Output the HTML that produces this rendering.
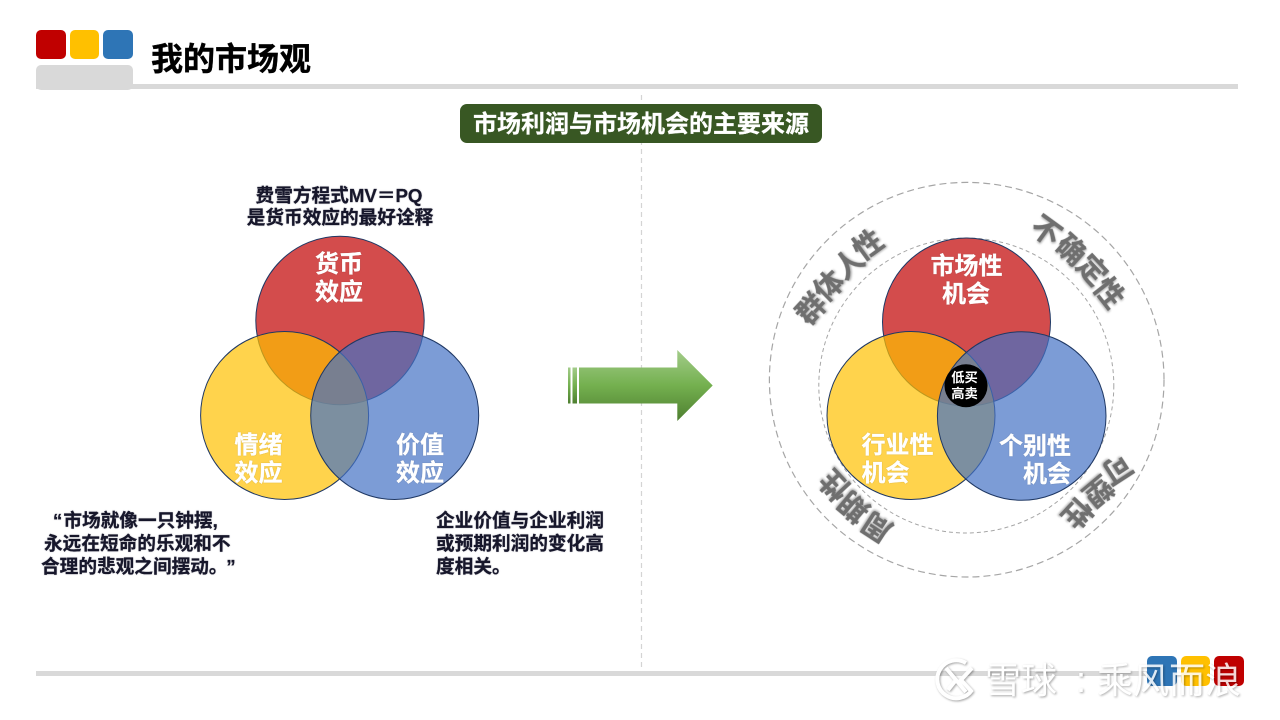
<!DOCTYPE html>
<html><head><meta charset="utf-8">
<style>
html,body{margin:0;padding:0;background:#fff;width:1280px;height:720px;overflow:hidden}
svg{display:block}
text{font-family:"Liberation Sans","Noto Sans CJK SC",sans-serif;font-weight:700}
.d{font-size:18.67px;fill:#17172b;stroke:#17172b;stroke-width:.25px;filter:drop-shadow(.6px .6px .7px rgba(60,60,80,.3))}
.w{font-size:24px;fill:#fff;stroke:#fff;stroke-width:.3px;text-anchor:middle;filter:drop-shadow(.6px .6px .5px rgba(0,0,0,.2))}
.g{font-size:29px;fill:#6f6f6f;stroke:#6f6f6f;stroke-width:.3px;text-anchor:middle;filter:drop-shadow(1px 1px 1px rgba(0,0,0,.35))}
.m{font-size:36px;font-weight:400;fill:#fff;filter:drop-shadow(1px 1.5px 1px rgba(0,0,0,.36))}
</style></head><body>
<svg width="1280" height="720" viewBox="0 0 1280 720" xmlns="http://www.w3.org/2000/svg">
<defs>
<linearGradient id="ag" x1="0" y1="0" x2="0" y2="1">
<stop offset="0" stop-color="#a3cc8a"/><stop offset=".5" stop-color="#74b04f"/><stop offset="1" stop-color="#4e7f30"/>
</linearGradient>
<linearGradient id="ab" gradientUnits="userSpaceOnUse" x1="0" y1="350" x2="0" y2="421">
<stop offset="0" stop-color="#a3cc8a"/><stop offset=".5" stop-color="#74b04f"/><stop offset="1" stop-color="#4e7f30"/>
</linearGradient>
</defs>
<rect width="1280" height="720" fill="#fff"/>

<!-- header -->
<rect x="36" y="84" width="1202" height="5" fill="#d9d9d9"/>
<rect x="36" y="30" width="30" height="29" rx="5" fill="#c00000"/>
<rect x="70" y="30" width="29" height="29" rx="5" fill="#ffc000"/>
<rect x="103" y="30" width="30" height="29" rx="5" fill="#2e75b6"/>
<rect x="36" y="65" width="97" height="25" rx="5" fill="#d9d9d9"/>
<text x="151" y="70" font-size="32" fill="#000" stroke="#000" stroke-width=".4">我的市场观</text>

<!-- divider -->
<line x1="641.5" y1="95" x2="641.5" y2="672" stroke="#d4d4d4" stroke-width="1.2" stroke-dasharray="5 4"/>

<!-- footer -->
<rect x="36" y="671" width="1111" height="5" fill="#d9d9d9"/>
<rect x="1147" y="656" width="30" height="30" rx="5" fill="#2e75b6"/>
<rect x="1181" y="656" width="29" height="30" rx="5" fill="#ffc000"/>
<rect x="1214" y="656" width="30" height="30" rx="5" fill="#c00000"/>

<!-- badge -->
<rect x="460" y="104" width="362" height="39" rx="7" fill="#385723"/>
<text x="641" y="132" font-size="24" fill="#fff" stroke="#fff" stroke-width=".25" text-anchor="middle">市场利润与市场机会的主要来源</text>

<!-- left venn -->
<g stroke="#1f3864" stroke-width="1">
<circle cx="340" cy="320.500" r="84.200" fill="#c00000" fill-opacity=".7"/>
<circle cx="284.600" cy="415.500" r="84" fill="#ffc000" fill-opacity=".7"/>
<circle cx="394.700" cy="415.500" r="84" fill="#4472c4" fill-opacity=".7"/>
</g>
<text class="d" x="339" y="202" text-anchor="middle">费雪方程式MV<tspan font-family="'Noto Sans CJK SC',sans-serif">＝</tspan>PQ</text>
<text class="d" x="340" y="224" text-anchor="middle">是货币效应的最好诠释</text>
<text class="w" x="339" y="272">货币</text>
<text class="w" x="339" y="300">效应</text>
<text class="w" x="258.500" y="453">情绪</text>
<text class="w" x="258.500" y="481">效应</text>
<text class="w" x="420" y="453">价值</text>
<text class="w" x="420" y="481">效应</text>
<text class="d" x="53" y="527">“<tspan dx="1">市场就像一只钟摆</tspan>,</text>
<text class="d" x="44" y="550">永远在短命的乐观和不</text>
<text class="d" x="41" y="573">合理的悲观之间摆动。<tspan dx="8">”</tspan></text>
<text class="d" x="436" y="527">企业价值与企业利润</text>
<text class="d" x="436" y="550">或预期利润的变化高</text>
<text class="d" x="436" y="573">度相关。</text>

<!-- arrow -->
<g>
<rect x="568" y="367.500" width="2.500" height="36" fill="url(#ag)"/>
<rect x="572.500" y="367.500" width="4.500" height="36" fill="url(#ag)"/>
<path d="M579 367.500H677.300V350L712.700 385.500L677.300 421V403.500H579Z" fill="url(#ab)"/>
</g>

<!-- right dashed rings -->
<circle cx="966.700" cy="379.700" r="197.300" fill="none" stroke="#a6a6a6" stroke-width="1.200" stroke-dasharray="7 4"/>
<circle cx="966.300" cy="385.500" r="147.500" fill="none" stroke="#a6a6a6" stroke-width="1" stroke-dasharray="4 3"/>

<!-- right venn -->
<g stroke="#1f3864" stroke-width="1">
<circle cx="966.500" cy="322" r="84" fill="#c00000" fill-opacity=".7"/>
<circle cx="911" cy="415.500" r="84" fill="#ffc000" fill-opacity=".7"/>
<circle cx="1021.700" cy="416" r="84.300" fill="#4472c4" fill-opacity=".7"/>
</g>
<circle cx="966" cy="385.700" r="21.500" fill="#000"/>
<text x="964.500" y="382" font-size="13.300" fill="#fff" text-anchor="middle" style="font-weight:700">低买</text>
<text x="964.500" y="398" font-size="13.300" fill="#fff" text-anchor="middle" style="font-weight:700">高卖</text>
<text class="w" x="966.500" y="274">市场性</text>
<text class="w" x="966" y="302">机会</text>
<text class="w" x="897.500" y="453">行业性</text>
<text class="w" x="885.500" y="481">机会</text>
<text class="w" x="1035" y="454">个别性</text>
<text class="w" x="1047" y="482">机会</text>

<!-- ring labels -->
<g>
<text class="g" y="10" transform="translate(811,309) rotate(-47)">群</text>
<text class="g" y="10" transform="translate(829,286) rotate(-44)">体</text>
<text class="g" y="10" transform="translate(849,264) rotate(-40)">人</text>
<text class="g" y="10" transform="translate(868,245) rotate(-36)">性</text>
<text class="g" y="10" transform="translate(1046,231) rotate(36)">不</text>
<text class="g" y="10" transform="translate(1071,250) rotate(42)">确</text>
<text class="g" y="10" transform="translate(1092,270) rotate(47)">定</text>
<text class="g" y="10" transform="translate(1109,293) rotate(52)">性</text>
<text class="g" y="10" transform="translate(877,527) rotate(-147)">周</text>
<text class="g" y="10" transform="translate(854,507) rotate(-140)">期</text>
<text class="g" y="10" transform="translate(835,485) rotate(-133)">性</text>
<text class="g" y="10" transform="translate(1117,469) rotate(147)">可</text>
<text class="g" y="10" transform="translate(1098,491) rotate(140)">塑</text>
<text class="g" y="10" transform="translate(1077,513) rotate(133)">性</text>
</g>

<!-- watermark -->
<g style="filter:drop-shadow(1px 1.5px 1px rgba(0,0,0,.36))" fill="none" stroke="#fff">
<path d="M966 663A19 19 0 1 0 972 690" stroke-width="4"/>
<path d="M946 668L966 692M948 690L956 680M972 668L961 680L972 692" stroke-width="4"/>
</g>
<text class="m" x="985" y="693">雪球</text>
<text class="m" x="1076" y="692">:</text>
<text class="m" x="1097" y="693" style="opacity:.85">乘风而浪</text>
</svg>
</body></html>
